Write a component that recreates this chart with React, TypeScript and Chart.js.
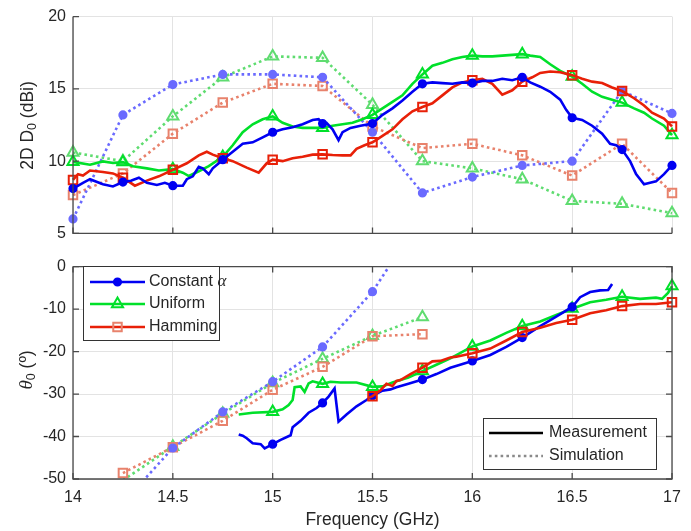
import React, { useEffect, useRef } from "react";
import { Chart, registerables } from "chart.js";

Chart.register(...registerables);

// ---------------- data ----------------
const FREQ_MIN = 14;
const FREQ_MAX = 17;
const FREQ_STEP = 0.5;
const topYTicks = { min: 5, max: 20, step: 5 };
const botYTicks = { min: -50, max: 0, step: 10 };

const seriesNames = ["Constant", "Uniform", "Hamming"];
const envNames = ["Measurement", "Simulation"];

// Simulation (0.25 GHz grid)
const simFreqTop = [14, 14.25, 14.5, 14.75, 15, 15.25, 15.5, 15.75, 16, 16.25, 16.5, 16.75, 17];
const simTopConst = [6.0, 13.2, 15.3, 16.0, 16.0, 15.8, 12.0, 7.8, 8.9, 9.7, 10.0, 14.85, 13.3];
const simTopUniform = [10.6, 10.0, 13.1, 15.8, 17.25, 17.15, 13.9, 10.0, 9.5, 8.75, 7.25, 7.05, 6.4];
const simTopHamming = [7.65, 9.15, 11.9, 14.05, 15.35, 15.2, 12.4, 10.9, 11.2, 10.4, 9.0, 11.2, 7.8];

const simFreqBot = [14.25, 14.5, 14.75, 15, 15.25, 15.5, 15.75];
const simBotConst = [-55.7, -42.7, -34.2, -27.1, -18.9, -5.9, 12.0];
const simBotUniform = [-50.3, -42.4, -34.6, -27.4, -21.7, -16.3, -11.9];
const simBotHamming = [-48.6, -42.5, -36.3, -29.0, -23.6, -16.4, -15.9];

// Measurement [GHz, value]
const topConstMeas: [number, number][] = [
  [14.0, 8.1], [14.05, 8.5], [14.085, 8.75], [14.15, 8.4], [14.2, 8.25], [14.25, 8.55], [14.29, 8.64],
  [14.33, 8.85], [14.37, 8.5], [14.42, 8.35], [14.46, 8.5], [14.5, 8.3], [14.55, 8.3], [14.57, 8.75],
  [14.6, 8.95], [14.63, 9.6], [14.65, 9.5], [14.68, 9.1], [14.7, 9.5], [14.73, 9.85], [14.75, 10.1],
  [14.8, 10.65], [14.85, 11.2], [14.9, 11.3], [14.95, 11.65], [15.0, 12.0], [15.05, 12.2], [15.1, 12.35],
  [15.15, 12.55], [15.2, 12.85], [15.23, 12.9], [15.25, 12.6], [15.27, 12.65], [15.3, 12.2], [15.33, 11.45],
  [15.35, 12.0], [15.39, 12.3], [15.44, 12.45], [15.5, 12.6], [15.55, 13.2], [15.6, 13.65], [15.65, 14.2],
  [15.7, 14.8], [15.75, 15.35], [15.8, 15.45], [15.85, 15.4], [15.9, 15.35], [15.95, 15.45], [16.0, 15.4],
  [16.05, 15.55], [16.1, 15.55], [16.15, 15.7], [16.2, 15.6], [16.25, 15.8], [16.29, 15.45], [16.34, 15.15],
  [16.39, 14.8], [16.44, 14.25], [16.47, 13.55], [16.5, 13.0], [16.55, 12.85], [16.6, 12.45], [16.65, 11.9],
  [16.69, 11.2], [16.72, 11.1], [16.75, 10.8], [16.79, 10.0], [16.82, 9.1], [16.86, 8.4], [16.89, 8.5],
  [16.92, 8.6], [16.96, 9.1], [17.0, 9.7],
];
const topUniformMeas: [number, number][] = [
  [14.0, 9.95], [14.085, 9.75], [14.15, 9.98], [14.2, 9.87], [14.25, 9.93], [14.3, 9.65], [14.37, 9.5],
  [14.43, 9.35], [14.5, 9.45], [14.55, 9.2], [14.58, 8.97], [14.63, 9.3], [14.68, 9.65], [14.75, 10.3],
  [14.8, 11.1], [14.85, 12.0], [14.9, 12.55], [14.95, 12.9], [15.0, 13.1], [15.05, 12.65], [15.1, 12.4],
  [15.15, 12.3], [15.25, 12.3], [15.3, 12.45], [15.35, 12.55], [15.4, 12.65], [15.45, 12.9], [15.5, 13.2],
  [15.55, 13.65], [15.6, 14.1], [15.65, 14.55], [15.7, 15.35], [15.75, 16.0], [15.8, 16.6], [15.85, 16.8],
  [15.9, 17.05], [15.95, 17.2], [16.0, 17.3], [16.05, 17.25], [16.1, 17.25], [16.15, 17.3], [16.2, 17.35],
  [16.25, 17.4], [16.29, 17.3], [16.34, 17.2], [16.39, 16.7], [16.44, 16.25], [16.5, 15.85], [16.55, 15.35],
  [16.6, 14.8], [16.65, 14.45], [16.7, 14.25], [16.75, 14.05], [16.81, 13.65], [16.86, 13.35], [16.9, 12.95],
  [16.96, 12.45], [17.0, 11.8],
];
const topHammingMeas: [number, number][] = [
  [14.0, 8.7], [14.025, 9.1], [14.05, 9.0], [14.085, 9.35], [14.15, 9.25], [14.2, 9.15], [14.25, 8.85],
  [14.31, 8.3], [14.37, 8.65], [14.43, 8.95], [14.5, 9.4], [14.57, 9.85], [14.63, 10.4], [14.67, 10.65],
  [14.7, 10.45], [14.75, 10.2], [14.8, 10.0], [14.87, 9.55], [14.93, 9.2], [14.97, 9.85], [15.0, 10.1],
  [15.05, 10.0], [15.1, 10.2], [15.15, 10.3], [15.2, 10.45], [15.25, 10.47], [15.3, 10.42], [15.35, 10.4],
  [15.39, 10.4], [15.42, 10.85], [15.46, 11.1], [15.5, 11.3], [15.55, 11.75], [15.6, 12.2], [15.65, 12.9],
  [15.7, 13.45], [15.75, 13.75], [15.8, 14.0], [15.85, 14.55], [15.9, 15.1], [15.95, 15.45], [16.0, 15.6],
  [16.05, 15.7], [16.1, 15.35], [16.15, 14.6], [16.2, 14.9], [16.25, 15.5], [16.3, 15.8], [16.34, 16.1],
  [16.39, 16.2], [16.44, 16.15], [16.5, 15.95], [16.55, 15.7], [16.6, 15.5], [16.65, 15.4], [16.7, 15.1],
  [16.75, 14.85], [16.81, 14.35], [16.86, 13.85], [16.9, 13.35], [16.96, 12.95], [17.0, 12.4],
];

const botConstMeas: [number, number][] = [
  [14.83, -39.5], [14.85, -39.8], [14.87, -40.4], [14.9, -41.6], [14.94, -41.8], [14.96, -42.8], [15.0, -41.8],
  [15.04, -40.8], [15.09, -39.7], [15.1, -37.8], [15.14, -36.3], [15.18, -34.4], [15.22, -33.3], [15.25, -32.1],
  [15.28, -30.6], [15.31, -28.7], [15.33, -36.5], [15.37, -34.8], [15.42, -32.9], [15.47, -31.4], [15.5, -30.4],
  [15.55, -29.2], [15.59, -28.9], [15.62, -28.4], [15.68, -27.6], [15.75, -26.6], [15.82, -25.3], [15.89, -23.8],
  [16.0, -22.2], [16.09, -20.8], [16.17, -18.9], [16.25, -16.7], [16.34, -14.0], [16.42, -11.8], [16.5, -9.5],
  [16.54, -7.2], [16.59, -6.0], [16.64, -5.6], [16.68, -5.5], [16.7, -4.1],
];
const botUniformMeas: [number, number][] = [
  [14.83, -34.8], [14.9, -34.4], [15.0, -34.2], [15.05, -33.6], [15.08, -32.6], [15.1, -31.4], [15.11, -28.4],
  [15.14, -28.2], [15.16, -29.5], [15.18, -27.5], [15.2, -27.0], [15.25, -27.6], [15.29, -27.1], [15.34, -27.3],
  [15.42, -27.3], [15.5, -28.3], [15.55, -28.2], [15.6, -27.3], [15.68, -26.1], [15.75, -24.6], [15.82, -23.1],
  [15.89, -21.6], [16.0, -18.8], [16.09, -17.4], [16.17, -15.6], [16.25, -14.0], [16.34, -12.9], [16.42, -11.4],
  [16.5, -9.9], [16.59, -8.4], [16.67, -7.8], [16.75, -7.1], [16.84, -7.6], [16.92, -7.3], [16.95, -7.6],
  [16.98, -6.2], [17.0, -4.6],
];
const botHammingMeas: [number, number][] = [
  [15.48, -30.9], [15.5, -30.5], [15.54, -29.1], [15.57, -27.6], [15.6, -28.1], [15.62, -26.9], [15.64, -26.7],
  [15.69, -25.3], [15.75, -23.8], [15.8, -22.3], [15.84, -22.2], [15.89, -21.4], [15.92, -21.2], [16.0, -20.4],
  [16.09, -19.3], [16.17, -17.4], [16.25, -15.4], [16.34, -14.4], [16.42, -13.3], [16.5, -12.5], [16.59, -11.0],
  [16.67, -10.3], [16.75, -9.3], [16.84, -8.8], [16.92, -8.8], [17.0, -8.4],
];

// ---------------- styles ----------------
const FONT = "'Liberation Sans', Arial, Helvetica, sans-serif";
const SERIF = "'Liberation Serif', 'DejaVu Serif', serif";
const TEXT = "#262626";
const AXIS = "#4a4a4a";
const GRID = "#e3e3e3";

const C_BLUE = "#0000f2";
const C_GREEN = "#00e02a";
const C_RED = "#e82008";
const S_BLUE = "#6a6aff";
const S_GREEN = "#5fdc70";
const S_RED = "#e8826c";

const R_CIRC = 3.6;
const R_TRI = 6.4;
const R_RECT = 6.0;

const isQuarter = (x: number) => Math.abs(x * 4 - Math.round(x * 4)) < 1e-6;

function meas(label: string, pts: [number, number][], color: string, style: string, r: number, fill: string) {
  return {
    label,
    data: pts.map(([x, y]) => ({ x, y })),
    borderColor: color,
    backgroundColor: color,
    borderWidth: 2.6,
    pointStyle: style,
    pointRadius: (c: any) => (c.raw && isQuarter(c.raw.x) ? r : 0),
    pointBorderColor: color,
    pointBackgroundColor: fill,
    pointBorderWidth: 2,
    tension: 0,
    fill: false,
    clip: false as any,
  };
}

function sim(label: string, xs: number[], ys: number[], color: string, style: string, r: number, fill: string, lo: number, hi: number) {
  return {
    label,
    data: xs.map((x, i) => ({ x, y: ys[i] })),
    borderColor: color,
    backgroundColor: color,
    borderWidth: 2.6,
    borderDash: [2.6, 3.2],
    pointStyle: style,
    pointRadius: (c: any) => (c.raw && c.raw.y >= lo && c.raw.y <= hi ? r : 0),
    pointBorderColor: color,
    pointBackgroundColor: fill,
    pointBorderWidth: 2,
    tension: 0,
    fill: false,
    clip: { left: 10, right: 10, top: 0, bottom: 0 } as any,
  };
}

const boxPlugin = {
  id: "boxAxes",
  afterDatasetsDraw(chart: any, _a: any, opts: any) {
    const { ctx, chartArea: a, scales } = chart;
    const xs = scales.x, ys = scales.y;
    ctx.save();
    ctx.strokeStyle = AXIS;
    ctx.lineWidth = 1.3;
    ctx.beginPath();
    ctx.moveTo(a.left, a.top);
    ctx.lineTo(a.left, a.bottom);
    ctx.lineTo(a.right, a.bottom);
    if (opts.full) {
      ctx.lineTo(a.right, a.top);
      ctx.lineTo(a.left, a.top);
    }
    ctx.stroke();
    const L = 6;
    ctx.beginPath();
    for (const t of ys.ticks) {
      const py = ys.getPixelForValue(t.value);
      ctx.moveTo(a.left, py);
      ctx.lineTo(a.left + L, py);
      if (opts.full) {
        ctx.moveTo(a.right, py);
        ctx.lineTo(a.right - L, py);
      }
    }
    for (const t of xs.ticks) {
      const px = xs.getPixelForValue(t.value);
      ctx.moveTo(px, a.bottom);
      ctx.lineTo(px, a.bottom - L);
      if (opts.full) {
        ctx.moveTo(px, a.top);
        ctx.lineTo(px, a.top + L);
      }
    }
    ctx.stroke();
    ctx.restore();
  },
};

type Seg = { text: string; font: string; dy?: number };
function drawRotated(ctx: CanvasRenderingContext2D, cx: number, cy: number, segs: Seg[]) {
  ctx.save();
  ctx.translate(cx, cy);
  ctx.rotate(-Math.PI / 2);
  let total = 0;
  for (const s of segs) {
    ctx.font = s.font;
    total += ctx.measureText(s.text).width;
  }
  let x = -total / 2;
  ctx.textBaseline = "middle";
  ctx.textAlign = "left";
  ctx.fillStyle = TEXT;
  for (const s of segs) {
    ctx.font = s.font;
    ctx.fillText(s.text, x, s.dy || 0);
    x += ctx.measureText(s.text).width;
  }
  ctx.restore();
}

function drawMarker(ctx: CanvasRenderingContext2D, style: string, x: number, y: number, color: string, fill: string) {
  ctx.save();
  ctx.lineWidth = 2;
  ctx.strokeStyle = color;
  ctx.fillStyle = fill;
  ctx.setLineDash([]);
  ctx.beginPath();
  if (style === "circle") {
    ctx.arc(x, y, R_CIRC, 0, Math.PI * 2);
    ctx.fill();
    ctx.stroke();
  } else if (style === "triangle") {
    const r = R_TRI;
    ctx.moveTo(x, y - r);
    ctx.lineTo(x + r * 0.866, y + r * 0.5);
    ctx.lineTo(x - r * 0.866, y + r * 0.5);
    ctx.closePath();
    ctx.stroke();
  } else {
    const s = R_RECT * Math.SQRT1_2;
    ctx.rect(x - s, y - s, 2 * s, 2 * s);
    ctx.stroke();
  }
  ctx.restore();
}

const topTitlePlugin = {
  id: "topTitle",
  afterDraw(chart: any) {
    drawRotated(chart.ctx, 28, 125.5, [
      { text: "2D D", font: `17.5px ${FONT}` },
      { text: "0", font: `12.5px ${FONT}`, dy: 5 },
      { text: " (dBi)", font: `17.5px ${FONT}` },
    ]);
  },
};

const botExtrasPlugin = {
  id: "botExtras",
  afterDraw(chart: any) {
    const ctx: CanvasRenderingContext2D = chart.ctx;
    drawRotated(ctx, 27, 120, [
      { text: "\u03b8", font: `italic 19px ${SERIF}` },
      { text: "0", font: `12.5px ${FONT}`, dy: 5 },
      { text: " (\u00ba)", font: `17.5px ${FONT}` },
    ]);

    // legend 1
    ctx.save();
    ctx.fillStyle = "#ffffff";
    ctx.strokeStyle = "#333333";
    ctx.lineWidth = 1;
    ctx.fillRect(83.5, 16.5, 136, 74);
    ctx.strokeRect(83.5, 16.5, 136, 74);
    const rows = [
      { y: 32, color: C_BLUE, mcolor: C_BLUE, style: "circle", fill: C_BLUE },
      { y: 54, color: C_GREEN, mcolor: C_GREEN, style: "triangle", fill: "rgba(0,0,0,0)" },
      { y: 77, color: C_RED, mcolor: S_RED, style: "rect", fill: "rgba(0,0,0,0)" },
    ];
    rows.forEach((r, i) => {
      ctx.strokeStyle = r.color;
      ctx.lineWidth = 2.6;
      ctx.beginPath();
      ctx.moveTo(90, r.y);
      ctx.lineTo(145, r.y);
      ctx.stroke();
      drawMarker(ctx, r.style, 117.5, r.y, r.mcolor, r.fill);
      ctx.fillStyle = TEXT;
      ctx.textBaseline = "middle";
      ctx.textAlign = "left";
      ctx.font = `16px ${FONT}`;
      if (i === 0) {
        const t = seriesNames[0] + " ";
        ctx.fillText(t, 149, r.y);
        const w = ctx.measureText(t).width;
        ctx.font = `italic 17px ${SERIF}`;
        ctx.fillText("\u03b1", 149 + w, r.y);
      } else {
        ctx.fillText(seriesNames[i], 149, r.y);
      }
    });

    // legend 2
    ctx.fillStyle = "#ffffff";
    ctx.strokeStyle = "#333333";
    ctx.lineWidth = 1;
    ctx.fillRect(483.5, 168.5, 173, 51);
    ctx.strokeRect(483.5, 168.5, 173, 51);
    ctx.lineWidth = 2.6;
    ctx.strokeStyle = "#000000";
    ctx.beginPath();
    ctx.moveTo(489, 183);
    ctx.lineTo(543, 183);
    ctx.stroke();
    ctx.strokeStyle = "#8a8a8a";
    ctx.setLineDash([2.6, 3.2]);
    ctx.beginPath();
    ctx.moveTo(489, 206);
    ctx.lineTo(543, 206);
    ctx.stroke();
    ctx.setLineDash([]);
    ctx.fillStyle = TEXT;
    ctx.font = `16px ${FONT}`;
    ctx.textBaseline = "middle";
    ctx.textAlign = "left";
    ctx.fillText(envNames[0], 549, 183);
    ctx.fillText(envNames[1], 549, 206);
    ctx.restore();
  },
};

function xScale(showLabels: boolean, h: number) {
  return {
    type: "linear" as const,
    min: FREQ_MIN,
    max: FREQ_MAX,
    ticks: {
      stepSize: FREQ_STEP,
      display: showLabels,
      padding: 9,
      color: TEXT,
      font: { family: FONT, size: 16 },
      maxRotation: 0,
      autoSkip: false,
      callback: (v: any) => String(Number(v)),
    },
    grid: { color: GRID, lineWidth: 1, drawTicks: false },
    border: { display: false },
    title: showLabels
      ? { display: true, text: "Frequency (GHz)", color: TEXT, font: { family: FONT, size: 17.5 }, padding: { top: 0, bottom: 0 } }
      : { display: false },
    afterFit: (s: any) => {
      s.height = h;
    },
  };
}

function yScale(t: { min: number; max: number; step: number }) {
  return {
    type: "linear" as const,
    min: t.min,
    max: t.max,
    ticks: { stepSize: t.step, padding: 7, color: TEXT, font: { family: FONT, size: 16 } },
    grid: { color: GRID, lineWidth: 1, drawTicks: false },
    border: { display: false },
    afterFit: (s: any) => {
      s.width = 73;
    },
  };
}

export default function App() {
  const topRef = useRef<HTMLCanvasElement>(null);
  const botRef = useRef<HTMLCanvasElement>(null);

  useEffect(() => {
    const top = new Chart(topRef.current as HTMLCanvasElement, {
      type: "line",
      data: {
        datasets: [
          meas(seriesNames[0], topConstMeas, C_BLUE, "circle", R_CIRC, C_BLUE),
          meas(seriesNames[2], topHammingMeas, C_RED, "rect", R_RECT, "rgba(0,0,0,0)"),
          meas(seriesNames[1], topUniformMeas, C_GREEN, "triangle", R_TRI, "rgba(0,0,0,0)"),
          sim(seriesNames[0], simFreqTop, simTopConst, S_BLUE, "circle", R_CIRC, S_BLUE, 5, 20),
          sim(seriesNames[2], simFreqTop, simTopHamming, S_RED, "rect", R_RECT, "rgba(0,0,0,0)", 5, 20),
          sim(seriesNames[1], simFreqTop, simTopUniform, S_GREEN, "triangle", R_TRI, "rgba(0,0,0,0)", 5, 20),
        ] as any,
      },
      options: {
        responsive: false,
        animation: false,
        events: [],
        layout: { padding: { left: 0, right: 19, top: 14, bottom: 0 } },
        scales: { x: xScale(false, 13), y: yScale(topYTicks) } as any,
        plugins: { legend: { display: false }, tooltip: { enabled: false }, boxAxes: { full: false } } as any,
      },
      plugins: [boxPlugin, topTitlePlugin],
    });

    const bot = new Chart(botRef.current as HTMLCanvasElement, {
      type: "line",
      data: {
        datasets: [
          meas(seriesNames[2], botHammingMeas, C_RED, "rect", R_RECT, "rgba(0,0,0,0)"),
          meas(seriesNames[0], botConstMeas, C_BLUE, "circle", R_CIRC, C_BLUE),
          meas(seriesNames[1], botUniformMeas, C_GREEN, "triangle", R_TRI, "rgba(0,0,0,0)"),
          sim(seriesNames[0], simFreqBot, simBotConst, S_BLUE, "circle", R_CIRC, S_BLUE, -50, 0),
          sim(seriesNames[2], simFreqBot, simBotHamming, S_RED, "rect", R_RECT, "rgba(0,0,0,0)", -50, 0),
          sim(seriesNames[1], simFreqBot, simBotUniform, S_GREEN, "triangle", R_TRI, "rgba(0,0,0,0)", -50, 0),
        ] as any,
      },
      options: {
        responsive: false,
        animation: false,
        events: [],
        layout: { padding: { left: 0, right: 19, top: 8, bottom: 0 } },
        scales: { x: xScale(true, 52), y: yScale(botYTicks) } as any,
        plugins: { legend: { display: false }, tooltip: { enabled: false }, boxAxes: { full: true } } as any,
      },
      plugins: [boxPlugin, botExtrasPlugin],
    });

    return () => {
      top.destroy();
      bot.destroy();
    };
  }, []);

  return (
    <div style={{ position: "absolute", left: 0, top: 0, width: 691, height: 531, background: "#ffffff" }}>
      <canvas ref={topRef} width={691} height={250} style={{ position: "absolute", left: 0, top: 0, width: 691, height: 250 }} />
      <canvas ref={botRef} width={691} height={281} style={{ position: "absolute", left: 0, top: 250, width: 691, height: 281 }} />
    </div>
  );
}
